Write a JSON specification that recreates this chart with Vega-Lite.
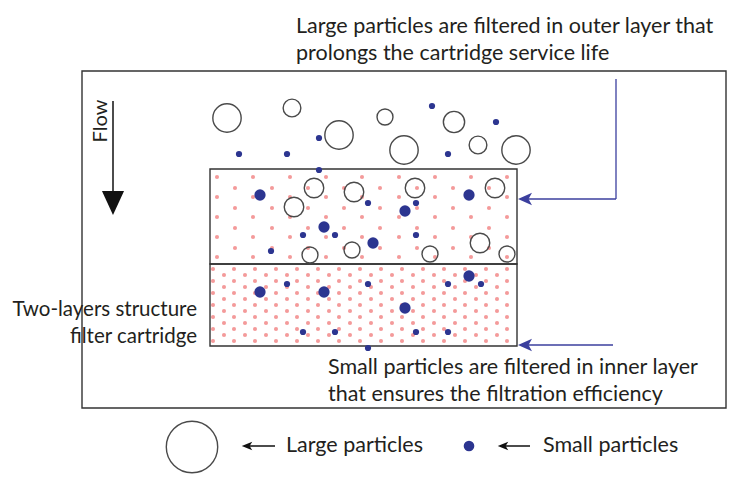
{
  "$schema": "https://vega.github.io/schema/vega-lite/v6.json",
  "width": 731,
  "height": 477,
  "padding": 0,
  "autosize": {"type": "none"},
  "config": {"view": {"stroke": null}, "font": "Lato"},
  "datasets": {
    "frames": [
      {"x": 82, "x2": 726, "y": 71, "y2": 408},
      {"x": 210, "x2": 517, "y": 169, "y2": 264},
      {"x": 210, "x2": 517, "y": 264, "y2": 346}
    ],
    "pink": [
      {"x":217,"y":177},{"x":253,"y":177},{"x":290,"y":177},{"x":326,"y":177},{"x":362,"y":177},{"x":399,"y":177},{"x":435,"y":177},{"x":471,"y":177},{"x":507,"y":177},
      {"x":217,"y":197},{"x":253,"y":197},{"x":290,"y":197},{"x":326,"y":197},{"x":362,"y":197},{"x":399,"y":197},{"x":435,"y":197},{"x":471,"y":197},{"x":507,"y":197},
      {"x":217,"y":217},{"x":253,"y":217},{"x":290,"y":217},{"x":326,"y":217},{"x":362,"y":217},{"x":399,"y":217},{"x":435,"y":217},{"x":471,"y":217},{"x":507,"y":217},
      {"x":217,"y":237},{"x":253,"y":237},{"x":290,"y":237},{"x":326,"y":237},{"x":362,"y":237},{"x":399,"y":237},{"x":435,"y":237},{"x":471,"y":237},{"x":507,"y":237},
      {"x":217,"y":257},{"x":253,"y":257},{"x":290,"y":257},{"x":326,"y":257},{"x":362,"y":257},{"x":399,"y":257},{"x":435,"y":257},{"x":471,"y":257},{"x":507,"y":257},
      {"x":235,"y":188},{"x":272,"y":188},{"x":308,"y":188},{"x":344,"y":188},{"x":380,"y":188},{"x":417,"y":188},{"x":453,"y":188},{"x":489,"y":188},
      {"x":235,"y":208},{"x":272,"y":208},{"x":308,"y":208},{"x":344,"y":208},{"x":380,"y":208},{"x":417,"y":208},{"x":453,"y":208},{"x":489,"y":208},
      {"x":235,"y":228},{"x":272,"y":228},{"x":308,"y":228},{"x":344,"y":228},{"x":380,"y":228},{"x":417,"y":228},{"x":453,"y":228},{"x":489,"y":228},
      {"x":235,"y":248},{"x":272,"y":248},{"x":308,"y":248},{"x":344,"y":248},{"x":380,"y":248},{"x":417,"y":248},{"x":453,"y":248},{"x":489,"y":248},
      {"x":213,"y":269},{"x":234,"y":269},{"x":255,"y":269},{"x":276,"y":269},{"x":297,"y":269},{"x":318,"y":269},{"x":339,"y":269},{"x":360,"y":269},{"x":381,"y":269},{"x":402,"y":269},{"x":423,"y":269},{"x":444,"y":269},{"x":465,"y":269},{"x":486,"y":269},{"x":507,"y":269},
      {"x":213,"y":281},{"x":234,"y":281},{"x":255,"y":281},{"x":276,"y":281},{"x":297,"y":281},{"x":318,"y":281},{"x":339,"y":281},{"x":360,"y":281},{"x":381,"y":281},{"x":402,"y":281},{"x":423,"y":281},{"x":444,"y":281},{"x":465,"y":281},{"x":486,"y":281},{"x":507,"y":281},
      {"x":213,"y":293},{"x":234,"y":293},{"x":255,"y":293},{"x":276,"y":293},{"x":297,"y":293},{"x":318,"y":293},{"x":339,"y":293},{"x":360,"y":293},{"x":381,"y":293},{"x":402,"y":293},{"x":423,"y":293},{"x":444,"y":293},{"x":465,"y":293},{"x":486,"y":293},{"x":507,"y":293},
      {"x":213,"y":305},{"x":234,"y":305},{"x":255,"y":305},{"x":276,"y":305},{"x":297,"y":305},{"x":318,"y":305},{"x":339,"y":305},{"x":360,"y":305},{"x":381,"y":305},{"x":402,"y":305},{"x":423,"y":305},{"x":444,"y":305},{"x":465,"y":305},{"x":486,"y":305},{"x":507,"y":305},
      {"x":213,"y":317},{"x":234,"y":317},{"x":255,"y":317},{"x":276,"y":317},{"x":297,"y":317},{"x":318,"y":317},{"x":339,"y":317},{"x":360,"y":317},{"x":381,"y":317},{"x":402,"y":317},{"x":423,"y":317},{"x":444,"y":317},{"x":465,"y":317},{"x":486,"y":317},{"x":507,"y":317},
      {"x":213,"y":329},{"x":234,"y":329},{"x":255,"y":329},{"x":276,"y":329},{"x":297,"y":329},{"x":318,"y":329},{"x":339,"y":329},{"x":360,"y":329},{"x":381,"y":329},{"x":402,"y":329},{"x":423,"y":329},{"x":444,"y":329},{"x":465,"y":329},{"x":486,"y":329},{"x":507,"y":329},
      {"x":213,"y":341},{"x":234,"y":341},{"x":255,"y":341},{"x":276,"y":341},{"x":297,"y":341},{"x":318,"y":341},{"x":339,"y":341},{"x":360,"y":341},{"x":381,"y":341},{"x":402,"y":341},{"x":423,"y":341},{"x":444,"y":341},{"x":465,"y":341},{"x":486,"y":341},{"x":507,"y":341},
      {"x":224,"y":275},{"x":245,"y":275},{"x":266,"y":275},{"x":287,"y":275},{"x":308,"y":275},{"x":329,"y":275},{"x":350,"y":275},{"x":371,"y":275},{"x":392,"y":275},{"x":413,"y":275},{"x":434,"y":275},{"x":455,"y":275},{"x":476,"y":275},{"x":497,"y":275},
      {"x":224,"y":287},{"x":245,"y":287},{"x":266,"y":287},{"x":287,"y":287},{"x":308,"y":287},{"x":329,"y":287},{"x":350,"y":287},{"x":371,"y":287},{"x":392,"y":287},{"x":413,"y":287},{"x":434,"y":287},{"x":455,"y":287},{"x":476,"y":287},{"x":497,"y":287},
      {"x":224,"y":299},{"x":245,"y":299},{"x":266,"y":299},{"x":287,"y":299},{"x":308,"y":299},{"x":329,"y":299},{"x":350,"y":299},{"x":371,"y":299},{"x":392,"y":299},{"x":413,"y":299},{"x":434,"y":299},{"x":455,"y":299},{"x":476,"y":299},{"x":497,"y":299},
      {"x":224,"y":311},{"x":245,"y":311},{"x":266,"y":311},{"x":287,"y":311},{"x":308,"y":311},{"x":329,"y":311},{"x":350,"y":311},{"x":371,"y":311},{"x":392,"y":311},{"x":413,"y":311},{"x":434,"y":311},{"x":455,"y":311},{"x":476,"y":311},{"x":497,"y":311},
      {"x":224,"y":323},{"x":245,"y":323},{"x":266,"y":323},{"x":287,"y":323},{"x":308,"y":323},{"x":329,"y":323},{"x":350,"y":323},{"x":371,"y":323},{"x":392,"y":323},{"x":413,"y":323},{"x":434,"y":323},{"x":455,"y":323},{"x":476,"y":323},{"x":497,"y":323},
      {"x":224,"y":335},{"x":245,"y":335},{"x":266,"y":335},{"x":287,"y":335},{"x":308,"y":335},{"x":329,"y":335},{"x":350,"y":335},{"x":371,"y":335},{"x":392,"y":335},{"x":413,"y":335},{"x":434,"y":335},{"x":455,"y":335},{"x":476,"y":335},{"x":497,"y":335}
    ],
    "blueLines": [
      {"x": 616, "y": 79, "x2": 616, "y2": 199},
      {"x": 616, "y": 199, "x2": 527, "y2": 199},
      {"x": 613, "y": 345, "x2": 527, "y2": 345}
    ],
    "blackLines": [
      {"x": 113, "y": 101, "x2": 113, "y2": 192},
      {"x": 246, "y": 446, "x2": 275, "y2": 446},
      {"x": 502, "y": 446, "x2": 530, "y2": 446}
    ],
    "blueHeads": [
      {"x": 525, "y": 199},
      {"x": 525, "y": 345}
    ],
    "blackHeads": [
      {"x": 247, "y": 446},
      {"x": 503, "y": 446}
    ],
    "flowHead": [
      {"x": 113, "y": 203}
    ],
    "small": [
      {"x":432,"y":106,"d":7},{"x":496,"y":122,"d":7},{"x":319,"y":138,"d":7},{"x":239,"y":154,"d":7},{"x":287,"y":154,"d":7},{"x":448,"y":154,"d":7},{"x":319,"y":170,"d":7},
      {"x":260,"y":195,"d":12.7},{"x":469,"y":195,"d":12.7},{"x":405,"y":211,"d":12.7},{"x":324,"y":227,"d":12.7},{"x":373,"y":243,"d":12.7},
      {"x":368,"y":203,"d":7},{"x":416,"y":203,"d":7},{"x":303,"y":235,"d":7},{"x":335,"y":235,"d":7},{"x":416,"y":235,"d":7},{"x":271,"y":251,"d":7},
      {"x":260,"y":292,"d":12.7},{"x":324,"y":292,"d":12.7},{"x":405,"y":308,"d":12.7},{"x":469,"y":276,"d":12.7},
      {"x":287,"y":284,"d":7},{"x":368,"y":284,"d":7},{"x":448,"y":284,"d":7},{"x":481,"y":284,"d":7},{"x":303,"y":332,"d":7},{"x":335,"y":332,"d":7},{"x":416,"y":332,"d":7},{"x":448,"y":332,"d":7},{"x":368,"y":348,"d":7},
      {"x":469,"y":446,"d":12}
    ],
    "large": [
      {"x":227,"y":118,"d":32},{"x":292,"y":108,"d":20},{"x":339,"y":135,"d":32},{"x":385,"y":117,"d":18},{"x":454,"y":122,"d":24},{"x":404,"y":150,"d":32},{"x":478,"y":145,"d":20},{"x":516,"y":150,"d":32},
      {"x":314,"y":188,"d":22},{"x":354,"y":192,"d":22},{"x":415,"y":188,"d":22},{"x":495,"y":188,"d":22},{"x":294,"y":207,"d":22},{"x":310,"y":255,"d":18},{"x":352,"y":250,"d":18},{"x":430,"y":254,"d":18},{"x":480,"y":243,"d":22},{"x":507,"y":254,"d":18},
      {"x":192,"y":447,"d":58}
    ],
    "leftText": [
      {"x": 296, "y": 33, "t": "Large particles are filtered in outer layer that"},
      {"x": 296, "y": 60, "t": "prolongs the cartridge service life"},
      {"x": 328, "y": 374, "t": "Small particles are filtered in inner layer"},
      {"x": 328, "y": 401, "t": "that ensures the filtration efficiency"},
      {"x": 286, "y": 452, "t": "Large particles"},
      {"x": 543, "y": 452, "t": "Small particles"}
    ],
    "rightText": [
      {"x": 197, "y": 316, "t": "Two-layers structure"},
      {"x": 197, "y": 343, "t": "filter cartridge"}
    ],
    "flowText": [
      {"x": 101, "y": 121, "t": "Flow"}
    ]
  },
  "encoding": {
    "x": {"field": "x", "type": "quantitative", "scale": {"domain": [0, 731], "nice": false, "zero": false}, "axis": null},
    "y": {"field": "y", "type": "quantitative", "scale": {"domain": [0, 477], "nice": false, "zero": false, "reverse": true}, "axis": null}
  },
  "layer": [
    {
      "data": {"name": "frames"},
      "mark": {"type": "rect", "filled": false, "stroke": "#333333", "strokeWidth": 1.4},
      "encoding": {"x2": {"field": "x2"}, "y2": {"field": "y2"}}
    },
    {
      "data": {"name": "pink"},
      "mark": {"type": "circle", "color": "#f49a9a", "opacity": 1, "size": 17}
    },
    {
      "data": {"name": "blueLines"},
      "mark": {"type": "rule", "color": "#3b3f9e", "strokeWidth": 1.3},
      "encoding": {"x2": {"field": "x2"}, "y2": {"field": "y2"}}
    },
    {
      "data": {"name": "blackLines"},
      "mark": {"type": "rule", "color": "#111111", "strokeWidth": 1.5},
      "encoding": {"x2": {"field": "x2"}, "y2": {"field": "y2"}}
    },
    {
      "data": {"name": "blueHeads"},
      "mark": {"type": "point", "shape": "M-1,0L1,-0.9L0.5,0L1,0.9Z", "filled": true, "color": "#3b3f9e", "opacity": 1, "size": 196}
    },
    {
      "data": {"name": "blackHeads"},
      "mark": {"type": "point", "shape": "M-1,0L1,-0.8L0.5,0L1,0.8Z", "filled": true, "color": "#111111", "opacity": 1, "size": 110}
    },
    {
      "data": {"name": "flowHead"},
      "mark": {"type": "point", "shape": "M-0.92,-1L0.92,-1L0,1Z", "filled": true, "color": "#111111", "opacity": 1, "size": 576}
    },
    {
      "data": {"name": "small"},
      "mark": {"type": "circle", "color": "#2c3590", "opacity": 1},
      "encoding": {
        "size": {"field": "d", "type": "quantitative", "scale": {"type": "pow", "exponent": 2, "domain": [0, 60], "range": [0, 2827.4]}, "legend": null}
      }
    },
    {
      "data": {"name": "large"},
      "mark": {"type": "point", "shape": "circle", "filled": false, "stroke": "#4a4a4a", "strokeWidth": 1.4, "opacity": 1},
      "encoding": {
        "size": {"field": "d", "type": "quantitative", "scale": {"type": "pow", "exponent": 2, "domain": [0, 60], "range": [0, 2827.4]}, "legend": null}
      }
    },
    {
      "data": {"name": "leftText"},
      "mark": {"type": "text", "align": "left", "baseline": "alphabetic", "fontSize": 21.5, "color": "#231f20"},
      "encoding": {"text": {"field": "t"}}
    },
    {
      "data": {"name": "rightText"},
      "mark": {"type": "text", "align": "right", "baseline": "alphabetic", "fontSize": 20.5, "color": "#231f20"},
      "encoding": {"text": {"field": "t"}}
    },
    {
      "data": {"name": "flowText"},
      "mark": {"type": "text", "align": "center", "baseline": "middle", "angle": 270, "fontSize": 20, "color": "#231f20"},
      "encoding": {"text": {"field": "t"}}
    }
  ]
}
